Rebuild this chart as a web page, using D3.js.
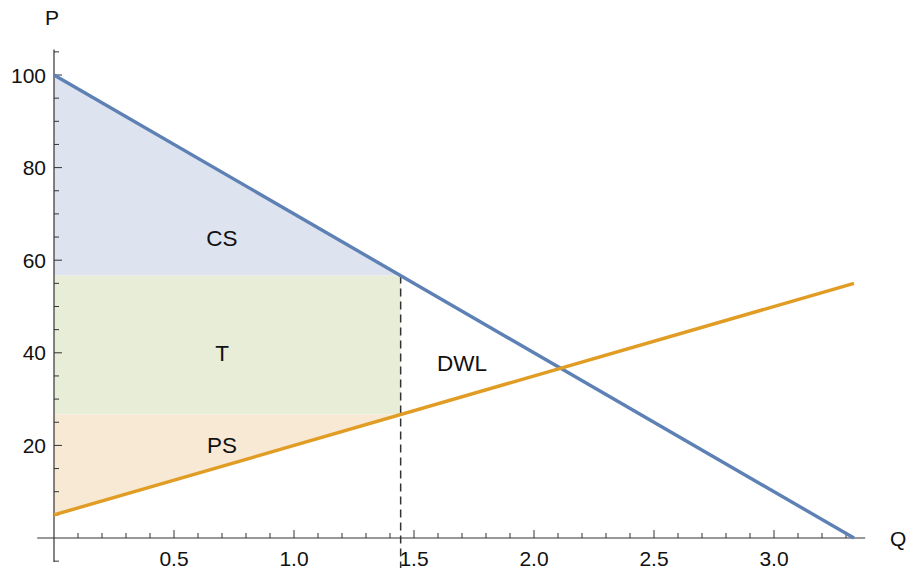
<!DOCTYPE html>
<html>
<head>
<meta charset="utf-8">
<script src="https://cdn.jsdelivr.net/npm/d3@7"></script>
<style>
  body { margin: 0; background: #fff; }
  svg text { font-family: "Liberation Sans", Arial, sans-serif; }
</style>
</head>
<body>
<svg id="chart" width="907" height="574"></svg>
<script>
// Data
const demand = [[0, 100], [3.3333, 0]];          // P = 100 - 30Q
const supply = [[0, 5], [3.3333, 55]];           // P = 5 + 15Q
const taxQ = 1.4444;
const priceBuyer = 56.67;
const priceSeller = 26.67;
const csArea = [[0, 100], [taxQ, priceBuyer], [0, priceBuyer]];
const tArea = [[0, priceBuyer], [taxQ, priceBuyer], [taxQ, priceSeller], [0, priceSeller]];
const psArea = [[0, 5], [taxQ, priceSeller], [0, priceSeller]];
const xTicks = [0.5, 1.0, 1.5, 2.0, 2.5, 3.0];
const yTicks = [20, 40, 60, 80, 100];
const regionLabels = [
  { text: "CS", q: 0.7, p: 64.8 },
  { text: "T", q: 0.7, p: 40 },
  { text: "PS", q: 0.7, p: 20 },
  { text: "DWL", q: 1.7, p: 37.8 }
];

const svg = d3.select("#chart");
const x = d3.scaleLinear().domain([0, 1]).range([54, 294]);
const y = d3.scaleLinear().domain([0, 100]).range([538, 75]);

const line = d3.line().x(d => x(d[0])).y(d => y(d[1]));

// Areas
svg.append("path").attr("d", line(csArea) + "Z").attr("fill", "#dee3f0");
svg.append("path").attr("d", line(tArea) + "Z").attr("fill", "#e8edd8");
svg.append("path").attr("d", line(psArea) + "Z").attr("fill", "#f8e9d5");

// Axes
const axisColor = "#333";
svg.append("line").attr("x1", x(-0.07)).attr("x2", x(3.38))
  .attr("y1", y(0)).attr("y2", y(0)).attr("stroke", axisColor).attr("stroke-width", 1.2);
svg.append("line").attr("x1", x(0)).attr("x2", x(0))
  .attr("y1", y(-5.2)).attr("y2", y(105.5)).attr("stroke", axisColor).attr("stroke-width", 1.2);

// X ticks (pointing up)
const xMinor = d3.range(1, 34).map(i => i / 10);
xMinor.forEach(v => {
  const major = Math.abs(v * 2 - Math.round(v * 2)) < 1e-6;
  svg.append("line").attr("x1", x(v)).attr("x2", x(v))
    .attr("y1", y(0)).attr("y2", y(0) - (major ? 8 : 5))
    .attr("stroke", axisColor).attr("stroke-width", 1);
});
// Y ticks (pointing right)
const yMinor = d3.range(-1, 22).map(i => i * 5).filter(v => v !== 0);
yMinor.forEach(v => {
  const major = v % 20 === 0;
  svg.append("line").attr("x1", x(0)).attr("x2", x(0) + (major ? 8 : 5))
    .attr("y1", y(v)).attr("y2", y(v))
    .attr("stroke", axisColor).attr("stroke-width", 1);
});

// Tick labels
svg.selectAll(".xl").data(xTicks).enter().append("text")
  .attr("x", d => x(d)).attr("y", y(0) + 28)
  .attr("text-anchor", "middle").attr("font-size", 21).attr("fill", "#111")
  .text(d => d.toFixed(1));
svg.selectAll(".yl").data(yTicks).enter().append("text")
  .attr("x", x(0) - 8).attr("y", d => y(d) + 7.5)
  .attr("text-anchor", "end").attr("font-size", 21).attr("fill", "#111")
  .text(d => d);

// Axis labels
svg.append("text").attr("x", 890).attr("y", y(0) + 8).attr("font-size", 21).attr("fill", "#111").text("Q");
svg.append("text").attr("x", 45).attr("y", 25).attr("font-size", 21).attr("fill", "#111").text("P");

// Dashed line at tax quantity
svg.append("line").attr("x1", x(taxQ)).attr("x2", x(taxQ))
  .attr("y1", y(priceBuyer)).attr("y2", y(-6.5))
  .attr("stroke", "#333").attr("stroke-width", 1.5).attr("stroke-dasharray", "8,5");

// Curves
svg.append("path").attr("d", line(demand)).attr("fill", "none")
  .attr("stroke", "#5e81b5").attr("stroke-width", 3.4);
svg.append("path").attr("d", line(supply)).attr("fill", "none")
  .attr("stroke", "#e19c24").attr("stroke-width", 3.4);

// Region labels
svg.selectAll(".rl").data(regionLabels).enter().append("text")
  .attr("x", d => x(d.q)).attr("y", d => y(d.p) + 8)
  .attr("text-anchor", "middle").attr("font-size", 22.5).attr("fill", "#111")
  .text(d => d.text);
</script>
</body>
</html>
